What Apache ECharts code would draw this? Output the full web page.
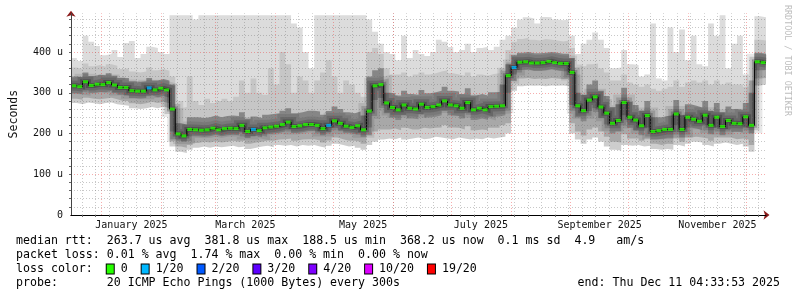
<!DOCTYPE html>
<html><head><meta charset="utf-8">
<script src="https://cdn.jsdelivr.net/npm/echarts@6/dist/echarts.min.js"></script>
<style>html,body{margin:0;padding:0;background:#fff}#c{width:797px;height:297px}</style>
</head><body><div id="c"></div>
<script>
// ---- time frame ----
const START = Date.UTC(2024, 11, 16, 4, 33, 53);
const END = Date.UTC(2025, 11, 11, 4, 33, 53);
const DAY = 86400000;
const STEP_DAYS = 3; // one value per 3-day bin, 120 bins

// ---- smoke envelopes (microseconds) ----
const rttMin = [
275,272,276,274,272,275,276,272,270,268,
262,260,262,265,262,266,262,168,155,152,
160,165,168,165,168,166,168,170,166,168,
162,165,168,170,166,172,170,172,168,172,
170,172,168,165,170,175,172,168,170,165,
160,172,180,185,188,186,190,185,188,190,
186,188,192,190,188,186,190,188,185,188,
186,190,188,190,192,200,305,316,318,317,
318,316,318,317,318,316,200,185,175,185,
190,180,168,160,158,172,170,172,168,170,
162,160,162,160,172,168,175,180,178,172,
168,175,178,175,172,175,168,155,318,320];
const rttLow2 = [
285,283,288,285,284,286,288,284,280,280,
274,272,274,278,275,278,274,182,168,165,
172,177,180,178,181,178,180,182,180,182,
175,178,180,183,182,185,186,188,182,185,
186,186,183,178,183,190,186,182,182,180,
175,195,205,210,210,212,208,214,210,210,
214,212,214,215,220,215,214,210,218,208,
210,208,214,214,220,225,328,335,336,334,
335,334,336,335,334,334,225,205,195,210,
215,205,192,180,178,198,188,188,182,188,
175,172,175,174,188,180,190,192,190,188,
182,190,190,190,186,188,185,172,335,336];
const rttLow1 = [
299,297,306,300,302,301,305,300,295,294,
287,286,287,293,289,292,288,205,185,180,
193,193,192,193,197,193,196,197,196,203,
189,194,191,198,200,202,205,210,201,203,
206,206,204,196,204,214,208,202,199,202,
192,215,282,287,250,239,233,245,237,235,
247,239,241,245,255,245,243,237,251,233,
237,233,241,242,245,300,345,356,357,354,
354,355,358,355,353,353,270,240,230,255,
262,238,222,200,205,245,214,208,196,215,
185,186,188,188,220,190,215,212,208,220,
198,215,196,210,204,204,215,200,355,356];
const rttMedian = [
317,315,327,318,321,320,325,319,313,313,
305,304,304,312,307,311,307,260,199,194,
210,209,208,209,213,209,212,213,212,220,
205,210,207,214,216,218,222,228,217,219,
222,222,220,212,220,231,225,218,215,219,
209,255,317,320,275,264,258,270,262,260,
272,264,266,270,280,270,268,262,276,258,
262,258,266,267,268,342,362,375,376,373,
373,374,377,374,372,372,350,268,256,282,
290,265,250,225,232,276,240,233,219,244,
205,207,210,210,248,210,240,235,230,245,
220,240,217,232,225,224,241,220,376,374];
const rttHigh1 = [
340,338,350,341,344,343,348,342,336,336,
328,327,328,336,330,334,330,320,225,222,
240,240,238,240,244,240,243,244,243,252,
236,242,238,246,248,250,256,262,250,252,
256,256,254,246,255,266,260,252,250,254,
244,340,355,360,300,299,293,305,297,295,
307,299,301,305,315,305,303,297,311,293,
297,293,301,302,320,370,392,398,400,397,
397,398,400,398,396,396,385,300,295,320,
330,305,292,265,272,312,278,270,256,280,
240,240,243,245,282,245,272,268,264,280,
255,275,252,266,260,258,275,300,398,396];
const rttHigh2 = [
362,358,372,365,368,364,370,366,358,360,
352,350,352,362,355,358,354,340,262,265,
340,280,270,285,275,280,285,280,290,330,
300,335,300,295,360,320,400,370,300,340,
330,300,330,350,380,340,300,330,320,300,
290,400,410,395,360,345,345,350,340,345,
350,345,348,352,355,348,345,342,350,340,
345,342,346,348,360,405,425,432,435,430,
428,432,430,428,426,428,410,345,365,370,
372,360,350,330,330,345,325,320,315,320,
310,305,310,315,330,315,325,330,325,330,
320,330,320,325,320,320,315,330,430,428];
const rttMax = [
385,378,440,425,415,392,395,405,388,422,
427,385,395,413,410,400,395,490,490,490,
490,480,490,490,490,490,490,490,490,490,
490,490,490,490,490,490,490,490,470,460,
400,360,490,490,490,490,490,490,490,490,
490,480,450,420,400,395,380,440,385,405,
395,390,400,430,425,412,400,405,420,400,
410,413,405,413,430,440,460,480,485,482,
470,486,485,480,478,480,440,395,420,430,
448,430,410,360,362,405,370,368,340,345,
470,335,330,460,400,455,380,440,370,365,
470,440,490,360,420,440,345,320,488,485];

// bins showing packet loss (index into loss colours)
const lossBins = [13, 31, 44, 76];
const lossLevels = [1, 1, 1, 1];

// ---- legend / ticks ----
const lossColors = ['#26ff00', '#00b8ff', '#0059ff', '#5e00ff', '#7e00ff', '#dd00ff', '#ff0000'];
const lossLabels = ['0', '1/20', '2/20', '3/20', '4/20', '10/20', '19/20'];
const monthTickLabels = ['January 2025', 'March 2025', 'May 2025', 'July 2025', 'September 2025', 'November 2025'];
const monthTickMonths = [0, 2, 4, 6, 8, 10];
const yTickValues = [0, 100, 200, 300, 400];
const yTickLabels = ['0', '100 u', '200 u', '300 u', '400 u'];
const statLines = [
  'median rtt:  263.7 us avg  381.8 us max  188.5 us min  368.2 us now  0.1 ms sd  4.9   am/s',
  'packet loss: 0.01 % avg  1.74 % max  0.00 % min  0.00 % now'
];
const probeText = 'probe:       20 ICMP Echo Pings (1000 Bytes) every 300s';
const endText = 'end: Thu Dec 11 04:33:53 2025';

// ---- build ----
const N = rttMedian.length;
const times = Array.from({length: N + 1}, (_, i) => START + i * STEP_DAYS * DAY);
const stepData = arr => times.map((t, i) => [t, arr[Math.min(i, N - 1)]]);
const lossOf = i => { const k = lossBins.indexOf(i); return k < 0 ? 0 : lossLevels[k]; };
const markerData = rttMedian.map((v, i) => [START + (i + 0.5) * STEP_DAYS * DAY, v, lossOf(i)]);

const monthMid = monthTickMonths.map(m => {
  const a = Date.UTC(2025, m, 1), b = Date.UTC(2025, m + 1, 1);
  return (a + b) / 2;
});
const monthStarts = Array.from({length: 12}, (_, m) => Date.UTC(2025, m, 1));
const weekLines = [];
for (let t = Date.UTC(2024, 11, 22); t < END; t += 7 * DAY) weekLines.push(t);
const yMinorTicks = [];
for (let v = 20; v < 495; v += 20) yMinorTicks.push(v);

const FONT = 'DejaVu Sans Mono';
const minorStyle = {color: 'rgba(110,110,110,0.38)', width: 1, type: [1, 2]};
const majorStyle = {color: 'rgba(235,50,50,0.4)', width: 1, type: [1, 2]};
const gridLines = [];
weekLines.forEach(t => gridLines.push({xAxis: t, lineStyle: minorStyle}));
monthStarts.forEach(t => gridLines.push({xAxis: t, lineStyle: majorStyle}));
yMinorTicks.forEach(v => gridLines.push({yAxis: v, lineStyle: (v % 100 === 0) ? majorStyle : minorStyle}));

function area(arr, color) {
  return {type: 'line', step: 'end', data: stepData(arr), symbol: 'none', silent: true,
    lineStyle: {width: 0}, areaStyle: {color: color, opacity: 1, origin: 'start'}, z: 1};
}
function glow(width, color) {
  return {type: 'line', step: 'end', data: stepData(rttMedian), symbol: 'none', silent: true,
    lineStyle: {width: width, color: color, cap: 'butt', join: 'miter'}, z: 2};
}

const series = [
  area(rttMax, '#dcdcdc'),
  area(rttHigh2, '#c6c6c6'),
  area(rttHigh1, '#868686'),
  area(rttLow1, '#a8a8a8'),
  area(rttLow2, '#cdcdcd'),
  area(rttMin, '#ffffff'),
  glow(16, 'rgba(0,0,0,0.09)'),
  glow(10, 'rgba(0,0,0,0.15)'),
  glow(5, 'rgba(0,0,0,0.22)'),
  {type: 'line', data: [[START, null]], symbol: 'none', silent: true, z: 3,
    markLine: {silent: true, symbol: ['none', 'none'], label: {show: false}, animation: false,
      emphasis: {disabled: true}, data: gridLines}},
  {type: 'line', step: 'end', data: stepData(rttMedian), symbol: 'none', silent: true,
    lineStyle: {width: 1, color: '#000'}, z: 4},
  {type: 'scatter', data: markerData, symbol: 'rect', symbolSize: [5, 3], silent: true, z: 5,
    itemStyle: {color: p => lossColors[p.data[2]]}}
];

const chart = echarts.init(document.getElementById('c'), null, {renderer: 'canvas'});
const legendRich = {t: {fontFamily: FONT, fontSize: 11.6, color: '#000'}};
lossColors.forEach((c, k) => {
  legendRich['b' + k] = {width: 7, height: 9, backgroundColor: c, borderColor: '#000', borderWidth: 1};
});
let lossText = '{t|loss color:  }';
lossLabels.forEach((l, k) => { lossText += '{b' + k + '|}{t| ' + l + (k < lossLabels.length - 1 ? '  ' : '') + '}'; });

chart.setOption({
  animation: false,
  backgroundColor: '#ffffff',
  grid: {left: 66, right: 31, top: 13.3, bottom: 82, containLabel: false},
  xAxis: [{
    type: 'value', min: START, max: END, z: 6,
    axisLine: {show: true, lineStyle: {color: '#000', width: 1}},
    axisTick: {show: true, customValues: weekLines, length: 2, lineStyle: {color: '#666'}},
    splitLine: {show: false},
    axisLabel: {customValues: monthMid, margin: 5, fontFamily: FONT, fontSize: 10, color: '#111',
      formatter: v => { const k = monthMid.indexOf(v); return k < 0 ? '' : monthTickLabels[k]; }}
  }, {
    type: 'value', min: START, max: END, z: 5, position: 'bottom',
    axisLine: {show: true, symbol: ['none', 'arrow'], symbolSize: [7, 6], symbolOffset: [0, 3.5],
      lineStyle: {color: '#8b1a1a', width: 1}},
    axisTick: {show: false}, axisLabel: {show: false}, splitLine: {show: false}
  }],
  yAxis: [{
    type: 'value', min: 0, max: 495, interval: 100, z: 6,
    name: 'Seconds', nameLocation: 'middle', nameGap: 51, nameRotate: 90,
    nameTextStyle: {fontFamily: FONT, fontSize: 11.5, color: '#111'},
    axisLine: {show: true, lineStyle: {color: '#444', width: 1}},
    axisTick: {show: true, customValues: yMinorTicks, length: 2, lineStyle: {color: '#666'}},
    splitLine: {show: false},
    axisLabel: {margin: 8, fontFamily: FONT, fontSize: 10, color: '#111', showMaxLabel: false,
      formatter: v => { const k = yTickValues.indexOf(v); return k < 0 ? '' : yTickLabels[k]; }}
  }, {
    type: 'value', min: 0, max: 495, z: 5, position: 'left',
    axisLine: {show: true, symbol: ['none', 'arrow'], symbolSize: [7, 6], symbolOffset: [0, 2.5],
      lineStyle: {color: '#8b1a1a', width: 1}},
    axisTick: {show: false}, axisLabel: {show: false}, splitLine: {show: false}
  }],
  series: series,
  graphic: [
    {type: 'text', x: 787, y: 5, rotation: -Math.PI / 2, silent: true,
      style: {text: 'RRDTOOL / TOBI OETIKER', fontFamily: FONT, fontSize: 8.4, fill: '#bdbdbd',
        textAlign: 'left', textVerticalAlign: 'middle'}},
    {type: 'text', x: 16, y: 241, silent: true,
      style: {text: statLines[0], fontFamily: FONT, fontSize: 11.6, fill: '#000', textVerticalAlign: 'middle'}},
    {type: 'text', x: 16, y: 254.5, silent: true,
      style: {text: statLines[1], fontFamily: FONT, fontSize: 11.6, fill: '#000', textVerticalAlign: 'middle'}},
    {type: 'text', x: 16, y: 269, silent: true,
      style: {text: lossText, rich: legendRich, fontFamily: FONT, fontSize: 11.6, textVerticalAlign: 'middle'}},
    {type: 'text', x: 16, y: 283, silent: true,
      style: {text: probeText, fontFamily: FONT, fontSize: 11.6, fill: '#000', textVerticalAlign: 'middle'}},
    {type: 'text', x: 780, y: 283, silent: true,
      style: {text: endText, fontFamily: FONT, fontSize: 11.6, fill: '#000', textAlign: 'right', textVerticalAlign: 'middle'}}
  ]
});
</script>
</body></html>
